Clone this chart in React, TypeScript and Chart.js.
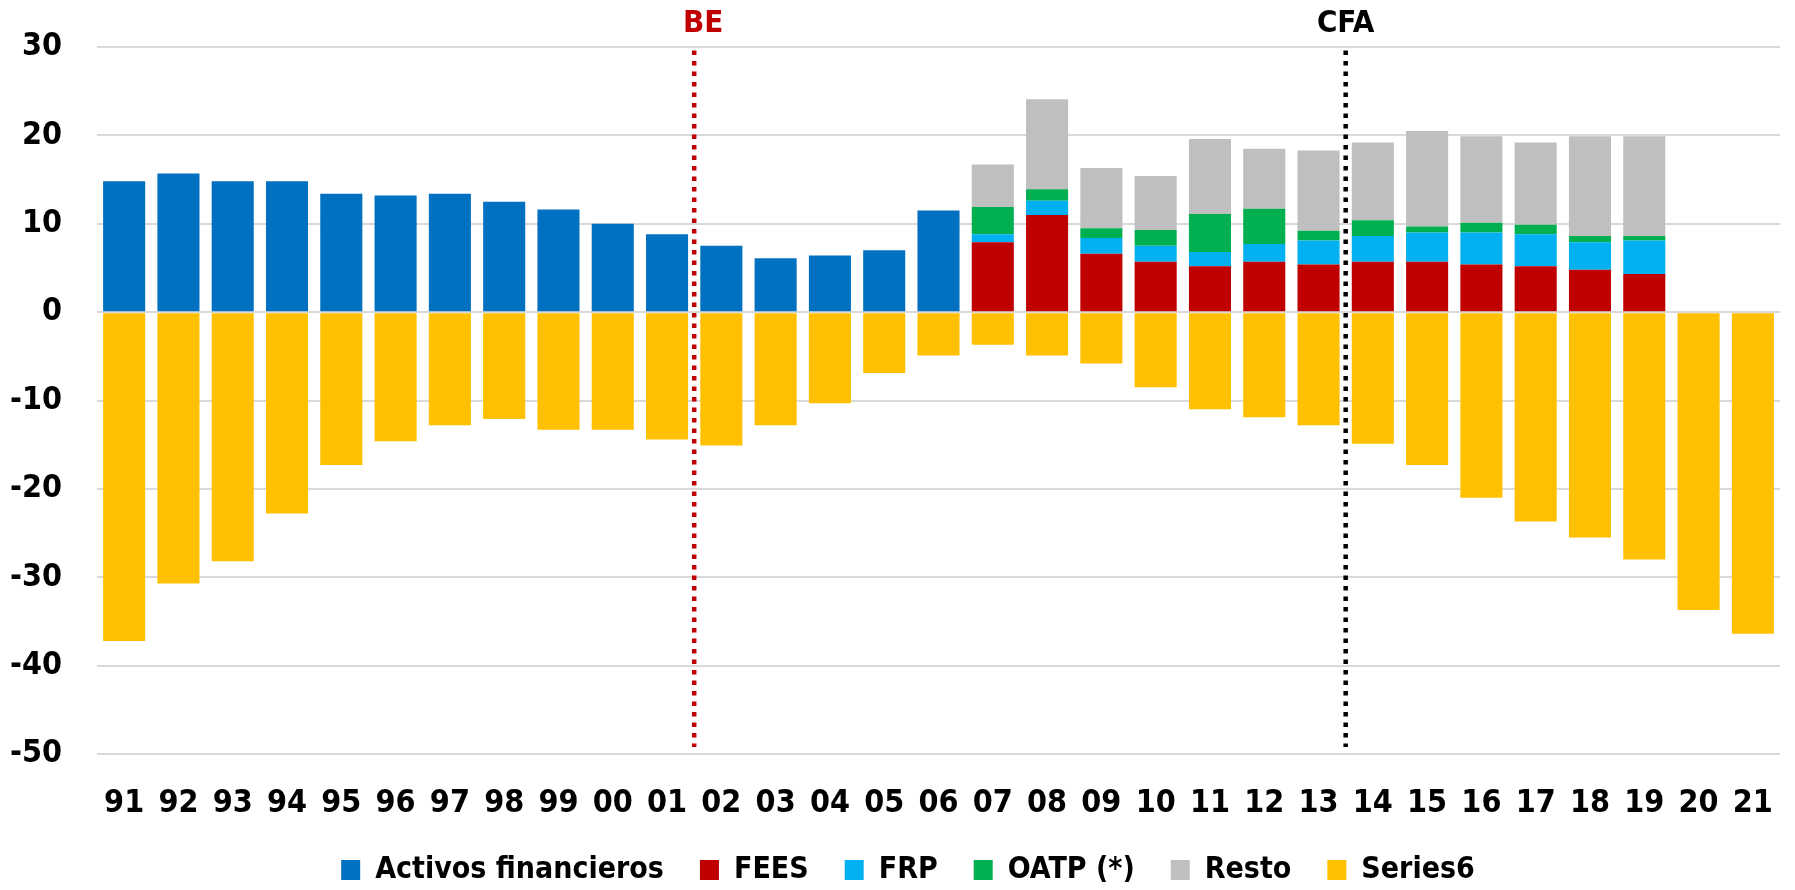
import React, { useEffect, useRef } from "react";
import { Chart, registerables } from "chart.js";

Chart.register(...registerables);

const categories = ["91","92","93","94","95","96","97","98","99","00","01","02","03","04","05","06","07","08","09","10","11","12","13","14","15","16","17","18","19","20","21"];

const activosFinancieros = [14.8,15.7,14.8,14.8,13.4,13.2,13.4,12.5,11.6,10.0,8.8,7.5,6.1,6.4,7.0,11.5,null,null,null,null,null,null,null,null,null,null,null,null,null,null,null];
const fees = [null,null,null,null,null,null,null,null,null,null,null,null,null,null,null,null,7.9,11.0,6.6,5.7,5.2,5.7,5.4,5.7,5.7,5.4,5.2,4.8,4.3,null,null];
const frp = [null,null,null,null,null,null,null,null,null,null,null,null,null,null,null,null,0.9,1.6,1.8,1.8,1.6,2.0,2.7,2.9,3.3,3.6,3.6,3.1,3.8,null,null];
const oatp = [null,null,null,null,null,null,null,null,null,null,null,null,null,null,null,null,3.1,1.3,1.1,1.8,4.3,4.0,1.1,1.8,0.7,1.1,1.1,0.7,0.5,null,null];
const resto = [null,null,null,null,null,null,null,null,null,null,null,null,null,null,null,null,4.8,10.2,6.8,6.1,8.5,6.8,9.1,8.8,10.8,9.8,9.3,11.3,11.3,null,null];
const series6 = [-37.2,-30.7,-28.2,-22.8,-17.3,-14.6,-12.8,-12.1,-13.3,-13.3,-14.4,-15.1,-12.8,-10.3,-6.9,-4.9,-3.7,-4.9,-5.8,-8.5,-11.0,-11.9,-12.8,-14.9,-17.3,-21.0,-23.7,-25.5,-28.0,-33.7,-36.4];

const yTicks = [30, 20, 10, 0, -10, -20, -30, -40, -50];

const markers = [
  { label: "BE", afterIndex: 10, color: "#c00000", textOffset: 9 },
  { label: "CFA", afterIndex: 22, color: "#000000", textOffset: 0 },
];

const FONT = '"Liberation Sans Narrow", "DejaVu Sans Condensed", "Arial Narrow", sans-serif';

const legendShift = 18;

const markerPlugin = {
  id: "markers",
  afterLayout(chart: any) {
    const lg = chart.legend;
    if (lg) {
      lg.left += legendShift;
      lg.right += legendShift;
      if (lg.legendHitBoxes) lg.legendHitBoxes.forEach((b: any) => (b.left += legendShift));
    }
  },
  afterDatasetsDraw(chart: any) {
    const { ctx } = chart;
    const xs = chart.scales.x;
    const ys = chart.scales.y;
    ctx.save();
    markers.forEach((m) => {
      const x = (xs.getPixelForValue(m.afterIndex) + xs.getPixelForValue(m.afterIndex + 1)) / 2;
      ctx.beginPath();
      ctx.setLineDash([4.5, 6]);
      ctx.lineWidth = 4.5;
      ctx.strokeStyle = m.color;
      ctx.moveTo(x, ys.getPixelForValue(29.6));
      ctx.lineTo(x, ys.getPixelForValue(-49.2));
      ctx.stroke();
      ctx.setLineDash([]);
      ctx.fillStyle = m.color;
      ctx.font = `bold 31px ${FONT}`;
      ctx.textAlign = "center";
      ctx.textBaseline = "alphabetic";
      ctx.fillText(m.label, x + m.textOffset, 32);
    });
    ctx.restore();
  },
};

export default function App() {
  const ref = useRef<HTMLCanvasElement | null>(null);
  useEffect(() => {
    document.body.style.margin = "0";
    if (!ref.current) return;
    const mk = (label: string, data: (number | null)[], color: string) => ({
      label,
      data,
      backgroundColor: color,
      borderWidth: 0,
      barPercentage: 0.775,
      categoryPercentage: 1,
    });
    const chart = new Chart(ref.current, {
      type: "bar",
      data: {
        labels: categories,
        datasets: [
          mk("Activos financieros", activosFinancieros, "#0070c0"),
          mk("FEES", fees, "#c00000"),
          mk("FRP", frp, "#00b0f0"),
          mk("OATP (*)", oatp, "#00b050"),
          mk("Resto", resto, "#bfbfbf"),
          mk("Series6", series6, "#ffc000"),
        ] as any,
      },
      options: {
        animation: false,
        responsive: false,
        layout: { padding: { top: 47, right: 15, left: 0, bottom: -5 } },
        plugins: {
          legend: {
            position: "bottom",
            labels: {
              color: "#000",
              font: { family: FONT, size: 30, weight: "bold" },
              boxWidth: 19,
              boxHeight: 20,
              padding: 36,
            },
          },
          tooltip: { enabled: false },
          title: { display: false },
        },
        scales: {
          x: {
            stacked: true,
            grid: { display: false, drawTicks: true, tickLength: 30, tickColor: "rgba(0,0,0,0)" },
            border: { display: false },
            ticks: {
              color: "#000",
              font: { family: FONT, size: 32, weight: "bold" },
              padding: 0,
              maxRotation: 0,
              autoSkip: false,
            },
            afterFit(scale: any) {
              scale.height = 65;
            },
          },
          y: {
            stacked: true,
            min: -50,
            max: 30,
            afterBuildTicks(scale: any) {
              scale.ticks = yTicks.map((v) => ({ value: v }));
            },
            grid: { color: "#d9d9d9", lineWidth: 2, drawTicks: true, tickLength: 35, tickColor: "rgba(0,0,0,0)" },
            border: { display: false },
            ticks: {
              color: "#000",
              font: { family: FONT, size: 32, weight: "bold" },
              padding: 0,
            },
            afterFit(scale: any) {
              scale.width = 97;
            },
          },
        },
      },
      plugins: [markerPlugin],
    });
    return () => chart.destroy();
  }, []);
  return (
    <div style={{ width: 1795, height: 890 }}>
      <canvas ref={ref} width={1795} height={890} style={{ display: "block" }} />
    </div>
  );
}
